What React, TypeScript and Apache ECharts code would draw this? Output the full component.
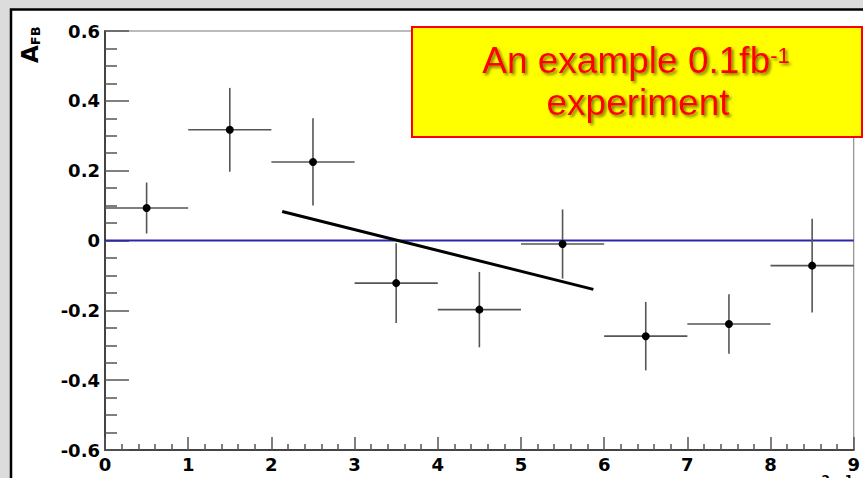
import React, { useEffect, useRef } from "react";
import * as echarts from "echarts";

// ---- data ----
const binCenters = [0.5, 1.5, 2.5, 3.5, 4.5, 5.5, 6.5, 7.5, 8.5];
const afbValues = [0.093, 0.317, 0.225, -0.122, -0.198, -0.01, -0.274, -0.239, -0.072];
const afbErrors = [0.073, 0.12, 0.125, 0.114, 0.108, 0.099, 0.098, 0.085, 0.134];
const binHalfWidths = [0.5, 0.5, 0.5, 0.5, 0.5, 0.5, 0.5, 0.5, 0.5];
const fitX = [2.13, 5.87];
const fitY = [0.083, -0.14];
const zeroLineX = [0, 9];
const zeroLineY = [0, 0];
const xTicks = { min: 0, max: 9, interval: 1 };
const yTicks = { min: -0.6, max: 0.6, interval: 0.2 };

const LABEL_FONT = "DejaVu Sans";
const BOX_FONT = "Liberation Sans";

export default function App() {
  const ref = useRef<HTMLDivElement>(null);

  useEffect(() => {
    if (!ref.current) return;
    const chart = echarts.init(ref.current, undefined, { renderer: "svg" });

    const errData = binCenters.map((x, i) => [x, afbValues[i], binHalfWidths[i], afbErrors[i]]);

    const option: any = {
      animation: false,
      backgroundColor: "#dcdcdc",
      grid: {
        left: 105,
        top: 31,
        width: 753,
        height: 419,
        show: true,
        borderColor: "#777",
        borderWidth: 1,
        backgroundColor: "transparent",
      },
      xAxis: {
        type: "value",
        min: xTicks.min,
        max: xTicks.max,
        interval: xTicks.interval,
        axisLine: { show: true, onZero: false, lineStyle: { color: "#444", width: 2 } },
        axisTick: { show: true, inside: true, length: 13, lineStyle: { color: "#555", width: 1.5 } },
        minorTick: { show: true, splitNumber: 5, length: 6, lineStyle: { color: "#555", width: 1.5 } },
        splitLine: { show: false },
        axisLabel: {
          margin: 5,
          color: "#000",
          fontWeight: "bold",
          fontSize: 18,
          fontFamily: LABEL_FONT,
          showMinLabel: true,
          showMaxLabel: true,
        },
      },
      yAxis: {
        type: "value",
        min: yTicks.min,
        max: yTicks.max,
        interval: yTicks.interval,
        axisLine: { show: true, onZero: false, lineStyle: { color: "#444", width: 2 } },
        axisTick: { show: true, inside: true, length: 24, lineStyle: { color: "#555", width: 1.5 } },
        minorTick: { show: true, splitNumber: 4, length: 12, lineStyle: { color: "#555", width: 1.5 } },
        splitLine: { show: false },
        axisLabel: {
          margin: 5,
          color: "#000",
          fontWeight: "bold",
          fontSize: 18,
          fontFamily: LABEL_FONT,
          showMinLabel: true,
          showMaxLabel: true,
          formatter: (v: number) => (Math.abs(v) < 1e-9 ? "0" : v.toFixed(1)),
        },
      },
      graphic: [
        {
          type: "rect",
          z: -10,
          silent: true,
          shape: { x: 11, y: 9.5, width: 900, height: 520 },
          style: { fill: "#ffffff", stroke: "#000", lineWidth: 2.5 },
        },
        {
          type: "text",
          x: 30,
          y: 63,
          rotation: Math.PI / 2,
          z: 50,
          style: {
            text: "{a|A}{s|FB}",
            textAlign: "left",
            textVerticalAlign: "middle",
            rich: {
              a: { fontSize: 23, fontWeight: "bold", fontFamily: LABEL_FONT, fill: "#000", lineHeight: 24 },
              s: {
                fontSize: 13,
                fontWeight: "bold",
                fontFamily: LABEL_FONT,
                fill: "#000",
                verticalAlign: "bottom",
                lineHeight: 24,
                padding: [10, 0, 0, 0],
              },
            },
          },
        },
        {
          type: "text",
          x: 861,
          y: 474,
          z: 50,
          style: {
            text: "{n|s}{n| (GeV}{s|2}{n|c}{s|-1}{n|)}",
            textAlign: "right",
            textVerticalAlign: "top",
            rich: {
              n: { fontSize: 17, fontWeight: "bold", fontFamily: LABEL_FONT, fill: "#000", lineHeight: 20, padding: [6, 0, 0, 0] },
              s: { fontSize: 12, fontWeight: "bold", fontFamily: LABEL_FONT, fill: "#000", lineHeight: 20, verticalAlign: "top" },
            },
          },
        },
        {
          type: "group",
          z: 100,
          children: [
            {
              type: "rect",
              shape: { x: 412, y: 27, width: 450, height: 110 },
              style: { fill: "#ffff00", stroke: "#ff0000", lineWidth: 2 },
            },
            {
              type: "text",
              x: 636,
              y: 60,
              style: {
                text: "{t|An example 0.1fb}{p|-1}",
                textAlign: "center",
                textVerticalAlign: "middle",
                rich: {
                  t: {
                    fontSize: 37,
                    fontFamily: BOX_FONT,
                    fill: "#ff0000",
                    lineHeight: 40,
                    textShadowColor: "rgba(100,100,0,0.85)",
                    textShadowOffsetX: 2,
                    textShadowOffsetY: 2,
                    textShadowBlur: 3,
                  },
                  p: {
                    fontSize: 22,
                    fontFamily: BOX_FONT,
                    fill: "#ff0000",
                    lineHeight: 40,
                    verticalAlign: "top",
                    padding: [4, 0, 0, 0],
                    textShadowColor: "rgba(100,100,0,0.85)",
                    textShadowOffsetX: 2,
                    textShadowOffsetY: 2,
                    textShadowBlur: 3,
                  },
                },
              },
            },
            {
              type: "text",
              x: 638,
              y: 102,
              style: {
                text: "experiment",
                textAlign: "center",
                textVerticalAlign: "middle",
                fontSize: 37,
                fontFamily: BOX_FONT,
                fill: "#ff0000",
                textShadowColor: "rgba(100,100,0,0.85)",
                textShadowOffsetX: 2,
                textShadowOffsetY: 2,
                textShadowBlur: 3,
              },
            },
          ],
        },
      ],
      series: [
        {
          type: "line",
          name: "zero",
          z: 1,
          data: zeroLineX.map((x, i) => [x, zeroLineY[i]]),
          showSymbol: false,
          symbol: "none",
          lineStyle: { color: "#2828a8", width: 2 },
          silent: true,
        },
        {
          type: "custom",
          name: "data",
          z: 3,
          data: errData,
          renderItem: (params: any, api: any) => {
            const x = api.value(0);
            const y = api.value(1);
            const xe = api.value(2);
            const ye = api.value(3);
            const l = api.coord([x - xe, y]);
            const r = api.coord([x + xe, y]);
            const t = api.coord([x, y + ye]);
            const b = api.coord([x, y - ye]);
            const c = api.coord([x, y]);
            const st = { stroke: "#555", lineWidth: 1.6 };
            return {
              type: "group",
              children: [
                { type: "line", shape: { x1: l[0], y1: l[1], x2: r[0], y2: r[1] }, style: st },
                { type: "line", shape: { x1: t[0], y1: t[1], x2: b[0], y2: b[1] }, style: st },
                { type: "circle", shape: { cx: c[0], cy: c[1], r: 4 }, style: { fill: "#000" } },
              ],
            };
          },
        },
        {
          type: "line",
          name: "fit",
          z: 4,
          data: fitX.map((x, i) => [x, fitY[i]]),
          showSymbol: false,
          symbol: "none",
          lineStyle: { color: "#000", width: 3 },
          silent: true,
        },
      ],
    };

    chart.setOption(option);
    return () => chart.dispose();
  }, []);

  return (
    <div
      ref={ref}
      style={{ position: "absolute", left: 0, top: 0, width: 863, height: 478 }}
    />
  );
}
